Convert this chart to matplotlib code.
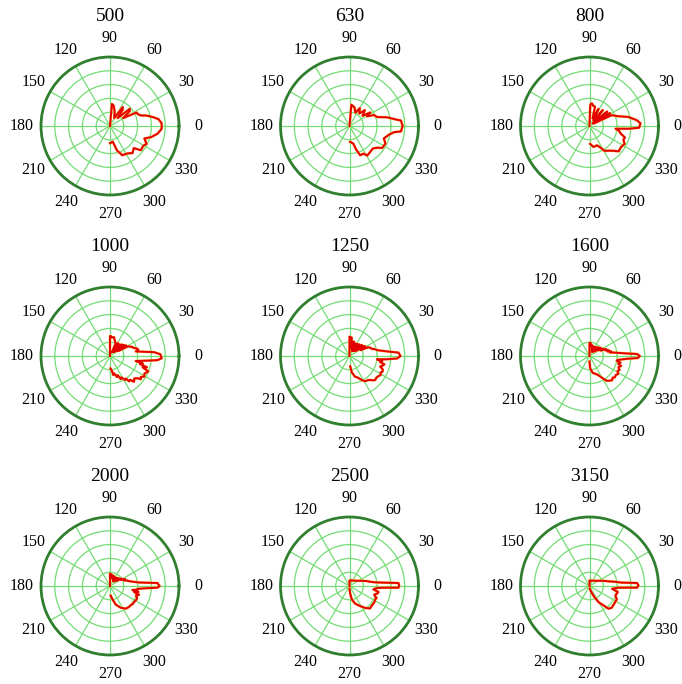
import numpy as np
import matplotlib
matplotlib.use("Agg")
import matplotlib.pyplot as plt

plt.rcParams['font.family'] = ['Liberation Serif', 'DejaVu Serif']

# Frequency bands (Hz) shown in each panel, row by row
FREQS = [500, 630, 800, 1000, 1250, 1600, 2000, 2500, 3150]

# Directivity curves: angle in degrees, normalised level (0..1)
ANG_500 = [-90, -80, -74, -67, -58, -50, -43, -38, -31, -26, -20, -15, -9, -3, 3, 8, 12, 16, 19, 23,
           27, 31, 37, 41, 46, 52, 56, 62, 72, 80, 85, 90]
RAD_500 = [0.25, 0.23, 0.37, 0.46, 0.47, 0.51, 0.47, 0.57, 0.56, 0.59, 0.53, 0.62, 0.70, 0.75, 0.75, 0.71, 0.63, 0.55, 0.47, 0.44,
           0.43, 0.22, 0.36, 0.38, 0.16, 0.30, 0.33, 0.13, 0.22, 0.30, 0.32, 0.0]

ANG_630 = [-88, -78, -74, -70, -63, -59, -51, -44, -38, -34, -26, -20, -13, -8, -6, 0, 6, 9, 13, 18,
           24, 29, 33, 38, 46, 52, 60, 66, 75, 85, 90]
RAD_630 = [0.23, 0.26, 0.36, 0.45, 0.45, 0.50, 0.48, 0.47, 0.51, 0.57, 0.58, 0.53, 0.58, 0.65, 0.75, 0.77, 0.75, 0.65, 0.56, 0.42,
           0.39, 0.29, 0.36, 0.24, 0.32, 0.23, 0.30, 0.21, 0.28, 0.31, 0.0]

ANG_800 = [-88, -79, -69, -63, -59, -51, -45, -41, -34, -27, -22, -18, -14, -9, -6, -4, -2, 3, 7, 13,
           20, 26, 30, 32, 36, 39, 44, 50, 56, 62, 68, 74, 80, 84, 88, 90]
RAD_800 = [0.26, 0.31, 0.30, 0.35, 0.42, 0.46, 0.51, 0.56, 0.55, 0.57, 0.53, 0.54, 0.47, 0.43, 0.38, 0.57, 0.72, 0.74, 0.69, 0.58,
           0.42, 0.36, 0.08, 0.35, 0.06, 0.33, 0.08, 0.30, 0.10, 0.28, 0.12, 0.29, 0.30, 0.33, 0.31, 0.0]

ANG_1000 = [-88, -83, -80, -76, -72, -68, -65, -62, -58, -55, -53, -50, -47, -43, -39, -37, -34, -31, -27, -22,
            -19, -17, -15, -13, -11, -7, -5, -2.5, 2, 5, 10, 13, 16, 19, 22, 25, 28, 31, 33, 36,
            38, 41, 44, 47, 50, 54, 58, 62, 66, 70, 75, 78, 84, 88, 90, 90]
RAD_1000 = [0.18, 0.21, 0.28, 0.26, 0.32, 0.30, 0.37, 0.35, 0.41, 0.40, 0.46, 0.45, 0.51, 0.48, 0.51, 0.56, 0.54, 0.58, 0.56, 0.60,
            0.50, 0.56, 0.45, 0.49, 0.38, 0.55, 0.69, 0.75, 0.73, 0.64, 0.38, 0.42, 0.40, 0.36, 0.35, 0.32, 0.30, 0.15, 0.28, 0.12,
            0.26, 0.10, 0.24, 0.08, 0.22, 0.08, 0.22, 0.06, 0.20, 0.22, 0.25, 0.28, 0.27, 0.29, 0.29, 0.0]

ANG_1250 = [-86, -82, -75, -70, -65, -62, -58, -53, -49, -46, -43, -39, -35, -31, -28, -25, -22, -19, -16, -13.5,
            -11, -9, -7, -5, -3, 0, 4, 6, 9, 12, 15, 18, 22, 25, 28, 31, 35, 38, 42, 46,
            50, 54, 58, 62, 66, 70, 74, 78, 83, 88, 90, 90]
RAD_1250 = [0.15, 0.24, 0.31, 0.33, 0.37, 0.40, 0.43, 0.44, 0.46, 0.49, 0.51, 0.50, 0.51, 0.53, 0.51, 0.53, 0.52, 0.47, 0.50, 0.52,
            0.45, 0.48, 0.40, 0.54, 0.69, 0.74, 0.71, 0.59, 0.48, 0.41, 0.38, 0.34, 0.32, 0.30, 0.18, 0.27, 0.25, 0.12, 0.24, 0.10,
            0.22, 0.09, 0.21, 0.08, 0.20, 0.10, 0.22, 0.12, 0.27, 0.27, 0.28, 0.0]

ANG_1600 = [-90, -87, -79, -72, -66, -62, -59, -55, -51, -47, -43, -40, -36, -32, -28, -25, -21, -17.5, -15, -12,
            -10, -8, -4, -2.4, 0, 2.4, 4.4, 7.6, 10, 12, 14, 17, 20, 23, 26, 29, 33, 37, 41, 45,
            50, 55, 60, 65, 70, 75, 80, 85, 90, 90]
RAD_1600 = [0.08, 0.18, 0.25, 0.27, 0.30, 0.34, 0.38, 0.44, 0.46, 0.48, 0.46, 0.48, 0.47, 0.49, 0.46, 0.48, 0.45, 0.48, 0.43, 0.46,
            0.40, 0.41, 0.56, 0.70, 0.73, 0.69, 0.51, 0.37, 0.30, 0.32, 0.27, 0.29, 0.24, 0.26, 0.18, 0.22, 0.15, 0.20, 0.10, 0.18,
            0.08, 0.16, 0.07, 0.15, 0.09, 0.16, 0.14, 0.19, 0.19, 0.0]

ANG_2000 = [-86, -80, -73, -64, -55, -48, -43, -38, -33, -28, -24, -20, -17, -14, -12, -10, -8, -6, -4, -2,
            0, 2, 3.6, 5, 7, 10, 13, 16, 18, 21, 25, 29, 33, 38, 43, 48, 53, 58, 63, 67,
            72, 77, 82, 86, 90, 90]
RAD_2000 = [0.14, 0.19, 0.28, 0.35, 0.40, 0.41, 0.41, 0.42, 0.42, 0.43, 0.43, 0.40, 0.44, 0.36, 0.42, 0.33, 0.40, 0.40, 0.49, 0.69,
            0.72, 0.70, 0.69, 0.54, 0.42, 0.35, 0.30, 0.27, 0.26, 0.22, 0.24, 0.18, 0.20, 0.12, 0.17, 0.09, 0.15, 0.08, 0.15, 0.10,
            0.16, 0.12, 0.17, 0.16, 0.18, 0.0]

ANG_2500 = [-90, -85, -80, -72, -62, -54.5, -47.6, -41, -33, -27, -23.7, -21, -19, -15, -11.7, -8, -4, -2.6, -2, 0.8,
            3.5, 5.6, 8, 12, 16, 22, 30, 40, 50, 60, 69, 80, 90, 90]
RAD_2500 = [0.04, 0.11, 0.20, 0.27, 0.33, 0.39, 0.44, 0.43, 0.43, 0.42, 0.43, 0.39, 0.38, 0.42, 0.43, 0.35, 0.40, 0.54, 0.71, 0.72,
            0.71, 0.50, 0.38, 0.30, 0.26, 0.20, 0.15, 0.12, 0.10, 0.09, 0.09, 0.08, 0.08, 0.0]

ANG_3150 = [-83, -74.5, -65.6, -60.6, -54, -50, -44.6, -35, -26, -20, -12, -7, -3.3, -2, 0.8, 3.6, 6, 10, 14, 20,
            28, 43, 60, 75, 90, 90]
RAD_3150 = [0.04, 0.09, 0.18, 0.27, 0.35, 0.43, 0.45, 0.44, 0.44, 0.40, 0.42, 0.33, 0.42, 0.69, 0.71, 0.69, 0.47, 0.36, 0.28, 0.22,
            0.16, 0.11, 0.09, 0.08, 0.08, 0.0]

ANGLES = [ANG_500, ANG_630, ANG_800, ANG_1000, ANG_1250, ANG_1600, ANG_2000, ANG_2500, ANG_3150]
RADII = [RAD_500, RAD_630, RAD_800, RAD_1000, RAD_1250, RAD_1600, RAD_2000, RAD_2500, RAD_3150]

ANGLE_TICKS = list(range(0, 360, 30))
RING_TICKS = [0.2, 0.4, 0.6, 0.8]

W, H = 682, 684
fig = plt.figure(figsize=(W / 100, H / 100), dpi=100)
fig.patch.set_facecolor('white')

col_x = [110, 349.5, 589.5]
row_y = [126, 356, 586]
R = 69

grid_green = '#74dc74'
rim_green = '#2f7f2f'

for i, (freq, ang, rad) in enumerate(zip(FREQS, ANGLES, RADII)):
    cx = col_x[i % 3]
    cy = row_y[i // 3]
    ax = fig.add_axes([(cx - R) / W, (H - cy - R) / H, 2 * R / W, 2 * R / H],
                      projection='polar')
    ax.set_ylim(0, 1)
    ax.set_yticks(RING_TICKS)
    ax.set_yticklabels([])
    ax.set_xticks(np.deg2rad(ANGLE_TICKS))
    ax.set_xticklabels([])
    ax.grid(True, color=grid_green, linewidth=0.9)
    ax.spines['polar'].set_color(rim_green)
    ax.spines['polar'].set_linewidth(2.0)
    ax.tick_params(length=0)

    for a in ANGLE_TICKS:
        ax.text(np.deg2rad(a), 1.28, str(a), ha='center', va='center',
                fontsize=11.5, clip_on=False)
    ax.text(np.pi / 2, 1.58, str(freq), ha='center', va='center',
            fontsize=14, clip_on=False)

    th = np.deg2rad(ang)
    ax.plot(th, rad, color='#ffb84a', linewidth=1.9, solid_joinstyle='round', clip_on=False)
    ax.plot(th, rad, color='#e30000', linewidth=1.4, solid_joinstyle='round', clip_on=False)

fig.savefig('out.png', dpi=100, facecolor='white')
